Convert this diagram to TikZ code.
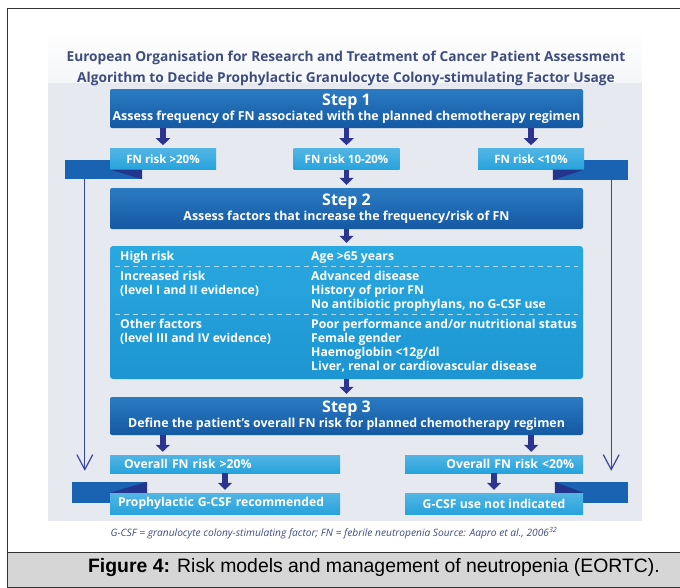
\documentclass[tikz,border=0pt]{standalone}
\usepackage{fontspec}
\setmainfont{Open Sans}
\newfontfamily\capfont{Liberation Sans}
\usetikzlibrary{arrows.meta, positioning, calc}

\definecolor{stepdark}{HTML}{1558A3}
\definecolor{steplight}{HTML}{2A7BC3}
\definecolor{riskblue}{HTML}{27A3DD}
\definecolor{infotop}{HTML}{2AA8E0}
\definecolor{infobot}{HTML}{1D95D2}
\definecolor{bandblue}{HTML}{1A62B2}
\definecolor{foldnavy}{HTML}{23358C}
\definecolor{arrownavy}{HTML}{2B3491}
\definecolor{sideline}{HTML}{3D43A0}
\definecolor{titleblue}{HTML}{3E4C80}
\definecolor{panelgray}{HTML}{E6E9EF}
\definecolor{capgray}{HTML}{D6D6D6}

\begin{document}
\begin{tikzpicture}[x=1pt, y=-1pt,
    stepbox/.style={rectangle, rounded corners=2pt, top color=steplight, bottom color=stepdark, text=white, minimum width=473pt, inner sep=0pt, align=center, font=\bfseries},
    riskbox/.style={rectangle, top color=riskblue!80!white, bottom color=riskblue, text=white, font=\bfseries\fontsize{11.5}{13}\selectfont, minimum height=21pt, minimum width=106pt, inner sep=0pt},
    resultbox/.style={rectangle, top color=riskblue!80!white, bottom color=riskblue, text=white, font=\bfseries\fontsize{12.2}{14}\selectfont, inner sep=0pt},
    band/.style={rectangle, fill=bandblue, inner sep=0pt},
    fold/.style={fill=foldnavy},
    blkarrow/.style={-{Triangle[width=14pt,length=7pt]}, line width=5.5pt, draw=arrownavy, shorten >=3pt},
    sidearrow/.style={-{Straight Barb[length=15pt,width=16pt]}, line width=1.2pt, draw=sideline},
    infotext/.style={text=white, font=\bfseries\fontsize{12.2}{14.2}\selectfont, anchor=base west, inner sep=0pt, align=left},
    sep/.style={draw=white!60!infotop, dash pattern=on 5pt off 4pt, line width=0.8pt}
]
\useasboundingbox (0,0) rectangle (680,587);

% Frame, panel and caption
\draw[black!80, line width=0.8pt] (7,600) -- (7,8) -- (690,8);
\fill[panelgray] (48,82) rectangle (642,521);
\fill[top color=white, bottom color=panelgray!40] (48,30) rectangle (642,82);
\node[rectangle, fill=capgray, draw=black!80, line width=0.8pt, minimum width=680pt, minimum height=35pt, inner sep=0pt] (capbar) at (347,570) {};
\node[font=\capfont\fontsize{19.4}{22}\selectfont] (caption) at (374,568) {\textbf{Figure 4:} Risk models and management of neutropenia (EORTC).};

% Title
\node[align=center, text=titleblue, font=\bfseries\fontsize{13.7}{21}\selectfont] (title) at (346,68) {European Organisation for Research and Treatment of Cancer Patient Assessment\\Algorithm to Decide Prophylactic Granulocyte Colony-stimulating Factor Usage};

% Side bands (behind the boxes)
\node[band, minimum width=77pt, minimum height=19pt] (bandtl) at (103.5,169.5) {};
\node[band, minimum width=75pt, minimum height=20pt] (bandtr) at (590.5,170) {};
\node[band, minimum width=75pt, minimum height=21pt] (bandbl) at (109.5,492.5) {};
\node[band, minimum width=73pt, minimum height=21pt] (bandbr) at (591.5,492.5) {};

% Step 1
\node[stepbox, minimum height=39pt] (step1) at (346.5,108.5) {{\fontsize{16}{17}\selectfont Step 1}\\[1pt]{\fontsize{12.4}{13}\selectfont Assess frequency of FN associated with the planned chemotherapy regimen}};

% FN risk boxes
\node[riskbox, below=20pt of step1.south west, anchor=north west] (fnhigh) {FN risk >20\%};
\node[riskbox, below=20pt of step1.south] (fnmid) {FN risk 10-20\%};
\node[riskbox, below=20pt of step1.south east, anchor=north east, xshift=1pt] (fnlow) {FN risk <10\%};

% Step 2 and factors
\node[stepbox, minimum height=41pt] (step2) at (346.5,208.5) {{\fontsize{16}{17}\selectfont Step 2}\\[1pt]{\fontsize{12.4}{13}\selectfont Assess factors that increase the frequency/risk of FN}};
\node[rectangle, rounded corners=3pt, top color=infotop, bottom color=infobot, minimum width=473pt, minimum height=133pt, inner sep=0pt] (infobox) at (346.5,312.5) {};

\node[infotext] (hirisk) at (120,260.5) {High risk};
\node[infotext] (incrisk) at (120,294.2) {Increased risk\\(level I and II evidence)};
\node[infotext] (othrisk) at (120,342.2) {Other factors\\(level III and IV evidence)};
\node[infotext] (hifact) at (311,260.5) {Age >65 years};
\node[infotext] (incfact) at (311,308.4) {Advanced disease\\History of prior FN\\No antibiotic prophylans, no G-CSF use};
\node[infotext] (othfact) at (311,370.6) {Poor performance and/or nutritional status\\Female gender\\Haemoglobin <12g/dl\\Liver, renal or cardiovascular disease};

\draw[sep] ([xshift=5pt]infobox.north west) ++(0,21) -- ++(463,0);
\draw[sep] ([xshift=5pt]infobox.north west) ++(0,69) -- ++(463,0);

% Step 3 and outcomes
\node[stepbox, minimum height=38pt] (step3) at (346.5,416) {{\fontsize{16}{17}\selectfont Step 3}\\[1pt]{\fontsize{12.4}{13}\selectfont Define the patient's overall FN risk for planned chemotherapy regimen}};

\node[resultbox, minimum width=230pt, minimum height=18pt, text width=202pt, align=left] (ovhigh) at (225,464) {Overall FN risk >20\%};
\node[resultbox, minimum width=178pt, minimum height=18pt, text width=160pt, align=right] (ovlow) at (494,464) {Overall FN risk <20\%};
\node[resultbox, minimum width=230pt, minimum height=21pt, text width=214pt, align=left] (prophyl) at (225,503.5) {Prophylactic G-CSF recommended};
\node[resultbox, minimum width=178pt, minimum height=21pt] (notind) at (494,503.5) {G-CSF use not indicated};

% Folds of the side bands
\fill[fold] (fnhigh.south west) -- (fnhigh.south west -| bandtl.east) -- (bandtl.south east) -- cycle;
\fill[fold] (fnlow.south east) -- (fnlow.south east -| bandtr.west) -- (bandtr.south west) -- cycle;
\fill[fold] (prophyl.north west) -- (prophyl.north west -| bandbl.east) -- (bandbl.north east) -- cycle;
\fill[fold] (notind.north east) -- (notind.north east -| bandbr.west) -- (bandbr.north west) -- cycle;

% Block arrows
\draw[blkarrow] (step1.south -| fnhigh.north) -- (fnhigh.north);
\draw[blkarrow] (step1.south -| fnmid.north) -- (fnmid.north);
\draw[blkarrow] (step1.south -| fnlow.north) -- (fnlow.north);
\draw[blkarrow] (fnmid.south) -- (step2.north);
\draw[blkarrow] (step2.south) -- (infobox.north);
\draw[blkarrow] (infobox.south) -- (step3.north);
\draw[blkarrow] ([xshift=53pt]step3.south west) -- ([xshift=53pt]ovhigh.north west);
\draw[blkarrow] ([xshift=-52pt]step3.south east) -- ([xshift=-52pt]step3.south east |- ovlow.north);
\draw[blkarrow] (ovhigh.south) -- (prophyl.north);
\draw[blkarrow] (ovlow.south) -- (notind.north);

% Side arrows (FN risk >20% and <10%)
\coordinate (ltop) at ([xshift=20pt]bandtl.south west);
\coordinate (rtop) at ([xshift=-17pt]bandtr.south east);
\draw[sidearrow, shorten >=11pt] (ltop) -- (ltop |- bandbl.north);
\draw[sidearrow, shorten >=11pt] (rtop) -- (rtop |- bandbr.north);

% Footnote
\node[text=titleblue, font=\itshape\fontsize{10.2}{12}\selectfont] (footnote) at (334,533) {G-CSF = granulocyte colony-stimulating factor; FN = febrile neutropenia Source: Aapro et al., 2006\textsuperscript{32}};

\end{tikzpicture}
\end{document}
